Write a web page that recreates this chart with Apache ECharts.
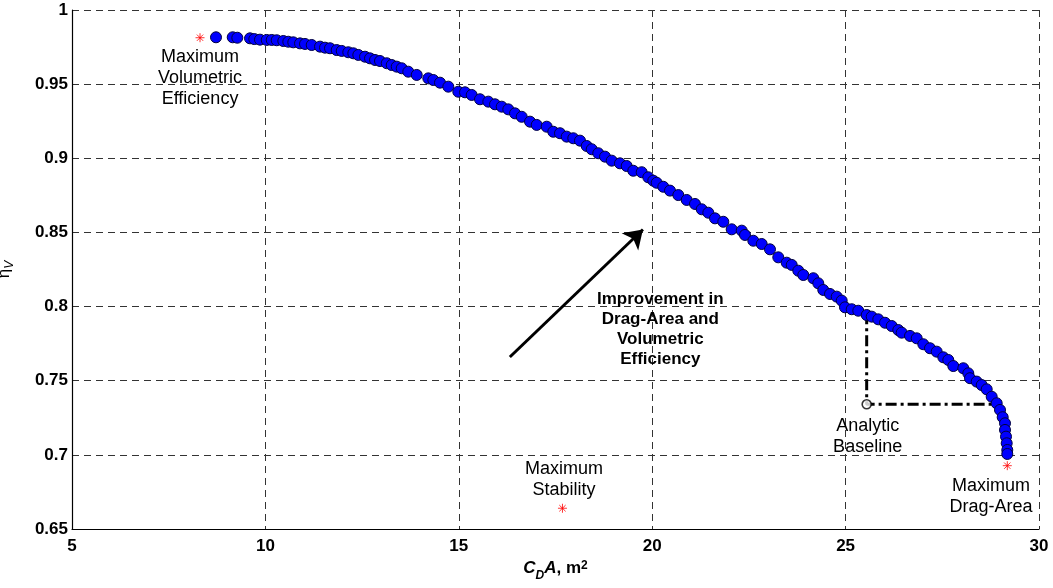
<!DOCTYPE html>
<html>
<head>
<meta charset="utf-8">
<script src="https://cdn.jsdelivr.net/npm/echarts@6/dist/echarts.min.js"></script>
<style>
html,body{margin:0;padding:0;background:#fff;}
#chart{width:1053px;height:588px;}
</style>
</head>
<body>
<div id="chart"></div>
<script>
// ---- Data ----
const curveX = [8.723, 9.155, 9.274, 9.602, 9.713, 9.860, 10.034, 10.163, 10.292, 10.463, 10.592, 10.721, 10.895, 11.024, 11.197, 11.412, 11.541, 11.670, 11.843, 11.973, 12.143, 12.273, 12.402, 12.575, 12.704, 12.834, 12.963, 13.136, 13.265, 13.395, 13.524, 13.694, 13.912, 14.212, 14.341, 14.514, 14.729, 14.987, 15.160, 15.333, 15.548, 15.763, 15.936, 16.109, 16.280, 16.453, 16.626, 16.841, 17.014, 17.272, 17.443, 17.616, 17.789, 17.960, 18.133, 18.307, 18.436, 18.606, 18.780, 18.953, 19.167, 19.340, 19.511, 19.728, 19.899, 20.028, 20.116, 20.287, 20.460, 20.675, 20.892, 21.106, 21.280, 21.451, 21.624, 21.838, 22.055, 22.314, 22.399, 22.614, 22.831, 23.045, 23.260, 23.477, 23.607, 23.777, 23.906, 24.165, 24.294, 24.423, 24.597, 24.770, 24.899, 24.984, 25.158, 25.328, 25.545, 25.675, 25.845, 26.018, 26.192, 26.362, 26.450, 26.665, 26.838, 27.009, 27.182, 27.355, 27.526, 27.655, 27.784, 28.043, 28.172, 28.216, 28.389, 28.518, 28.648, 28.777, 28.906, 28.992, 29.061, 29.121, 29.121, 29.147, 29.165, 29.180, 29.180];
const curveY = [0.9816, 0.9816, 0.9813, 0.9809, 0.9804, 0.9800, 0.9798, 0.9798, 0.9796, 0.9791, 0.9786, 0.9782, 0.9775, 0.9771, 0.9764, 0.9753, 0.9746, 0.9742, 0.9730, 0.9724, 0.9715, 0.9708, 0.9697, 0.9685, 0.9674, 0.9663, 0.9656, 0.9641, 0.9629, 0.9618, 0.9607, 0.9584, 0.9562, 0.9539, 0.9528, 0.9510, 0.9483, 0.9449, 0.9445, 0.9427, 0.9398, 0.9382, 0.9364, 0.9348, 0.9330, 0.9303, 0.9280, 0.9247, 0.9225, 0.9213, 0.9179, 0.9169, 0.9146, 0.9135, 0.9119, 0.9083, 0.9061, 0.9034, 0.9011, 0.8984, 0.8966, 0.8948, 0.8916, 0.8906, 0.8872, 0.8849, 0.8835, 0.8808, 0.8782, 0.8752, 0.8719, 0.8692, 0.8656, 0.8633, 0.8595, 0.8572, 0.8521, 0.8512, 0.8483, 0.8444, 0.8422, 0.8386, 0.8332, 0.8296, 0.8281, 0.8242, 0.8213, 0.8191, 0.8157, 0.8112, 0.8085, 0.8067, 0.8040, 0.7995, 0.7982, 0.7972, 0.7943, 0.7932, 0.7914, 0.7891, 0.7869, 0.7842, 0.7824, 0.7802, 0.7786, 0.7746, 0.7719, 0.7696, 0.7658, 0.7640, 0.7599, 0.7584, 0.7550, 0.7517, 0.7494, 0.7471, 0.7442, 0.7392, 0.7348, 0.7303, 0.7254, 0.7213, 0.7168, 0.7123, 0.7078, 0.7033, 0.7006];

const extremeNames = ['Maximum Volumetric Efficiency', 'Maximum Stability', 'Maximum Drag-Area'];
const extremeX = [8.31, 17.68, 29.18];
const extremeY = [0.9813, 0.6640, 0.6927];

const baselineX = [25.545, 25.545, 28.86];
const baselineY = [0.7955, 0.7341, 0.7341];

const arrowFrom = [16.32, 0.766];
const arrowTo = [19.76, 0.852];

const noteTexts = ['Maximum\nVolumetric\nEfficiency', 'Maximum\nStability', 'Analytic\nBaseline', 'Maximum\nDrag-Area', 'Improvement in\nDrag-Area and\nVolumetric\nEfficiency'];
const noteX = [8.31, 17.72, 25.57, 28.76, 20.21];
const noteY = [0.9541, 0.6831, 0.7121, 0.6716, 0.7849];
const noteBold = [false, false, false, false, true];

// ---- Chart ----
const chart = echarts.init(document.getElementById('chart'), null, {renderer: 'canvas'});
const FONT = '"Liberation Sans", Arial, sans-serif';

const curveData = curveX.map((x, i) => [x, curveY[i]]);
const extremeData = extremeX.map((x, i) => ({name: extremeNames[i], value: [x, extremeY[i]]}));
const baselineData = baselineX.map((x, i) => [x, baselineY[i]]);
const noteData = noteTexts.map((t, i) => ({
  name: t,
  value: [noteX[i], noteY[i]],
  label: {fontWeight: noteBold[i] ? 'bold' : 'normal', fontSize: noteBold[i] ? 17 : 18, lineHeight: noteBold[i] ? 20 : 21}
}));

const option = {
  animation: false,
  backgroundColor: '#ffffff',
  grid: {left: 72, right: 14, top: 10, bottom: 59, containLabel: false, outerBoundsMode: 'none'},
  xAxis: {
    type: 'value', min: 5, max: 30, interval: 5,
    axisLine: {show: true, onZero: false, lineStyle: {color: '#000', width: 1.2}},
    axisTick: {show: false},
    axisLabel: {color: '#000', fontFamily: FONT, fontWeight: 'bold', fontSize: 17, margin: 9},
    splitLine: {show: true, lineStyle: {color: '#333', width: 1, type: [7, 5]}},
    name: '{c|C}{sub|D}{c|A}{n|, m}{sup|2}',
    nameLocation: 'middle', nameGap: 30,
    nameTextStyle: {
      color: '#000', fontFamily: FONT, fontWeight: 'bold', fontSize: 17,
      rich: {
        c: {fontFamily: FONT, fontWeight: 'bold', fontStyle: 'italic', fontSize: 17, color: '#000', lineHeight: 20, verticalAlign: 'top'},
        n: {fontFamily: FONT, fontWeight: 'bold', fontSize: 17, color: '#000', lineHeight: 20, verticalAlign: 'top'},
        sub: {fontFamily: FONT, fontWeight: 'bold', fontStyle: 'italic', fontSize: 12, color: '#000', verticalAlign: 'bottom', padding: [10, 0, 0, 0]},
        sup: {fontFamily: FONT, fontWeight: 'bold', fontSize: 12, color: '#000', verticalAlign: 'top', padding: [0, 0, 8, 0]}
      }
    }
  },
  yAxis: {
    type: 'value', min: 0.65, max: 1, interval: 0.05,
    axisLine: {show: true, onZero: false, lineStyle: {color: '#000', width: 1.2}},
    axisTick: {show: false},
    axisLabel: {color: '#000', fontFamily: FONT, fontWeight: 'bold', fontSize: 17, margin: 4},
    splitLine: {show: true, lineStyle: {color: '#333', width: 1, type: [7, 5]}},
    name: '{e|η}{v|V}',
    nameLocation: 'middle', nameGap: 56, nameRotate: 90,
    nameTextStyle: {
      color: '#000', fontFamily: FONT, fontSize: 17,
      rich: {
        e: {fontFamily: FONT, fontSize: 17, color: '#000', lineHeight: 18, verticalAlign: 'top'},
        v: {fontFamily: FONT, fontStyle: 'italic', fontSize: 12, color: '#000', verticalAlign: 'bottom', padding: [8, 0, 0, 0]}
      }
    }
  },
  series: [
    {
      type: 'line', data: baselineData, symbol: 'none', silent: true, z: 2,
      lineStyle: {color: '#000', width: 3, type: [11, 4, 3, 4]}
    },
    {
      type: 'scatter', data: [baselineData[1]], symbol: 'circle', symbolSize: 9, z: 6, silent: true,
      itemStyle: {color: '#fff', borderColor: '#000', borderWidth: 1.6}
    },
    {
      type: 'scatter', data: curveData, symbol: 'circle', symbolSize: 11, z: 4, silent: true,
      itemStyle: {color: '#0000ff', borderColor: '#000040', borderWidth: 1, opacity: 1}
    },
    {
      type: 'scatter', data: extremeData, z: 5, silent: true,
      symbol: 'path://M5 0L5 10M0 5L10 5M1.5 1.5L8.5 8.5M1.5 8.5L8.5 1.5',
      symbolSize: 9,
      itemStyle: {color: 'rgba(0,0,0,0)', borderColor: '#ff0000', borderWidth: 1}
    },
    {
      type: 'line', data: [], silent: true, z: 3, symbol: 'none',
      itemStyle: {color: '#000'},
      markLine: {
        silent: true, animation: false,
        symbol: ['none', 'arrow'], symbolSize: 18,
        label: {show: false},
        itemStyle: {color: '#000'},
        lineStyle: {color: '#000', width: 3, type: 'solid'},
        data: [[{coord: arrowFrom}, {coord: arrowTo}]]
      }
    },
    {
      type: 'scatter', data: noteData, symbolSize: 1, z: 7, silent: true,
      itemStyle: {color: '#fff', opacity: 1},
      label: {
        show: true, position: 'inside', color: '#000', opacity: 1, fontFamily: FONT,
        align: 'center', verticalAlign: 'middle',
        textBorderWidth: 0, textBorderColor: 'transparent',
        formatter: p => p.name
      }
    }
  ]
};
chart.setOption(option);
</script>
</body>
</html>
